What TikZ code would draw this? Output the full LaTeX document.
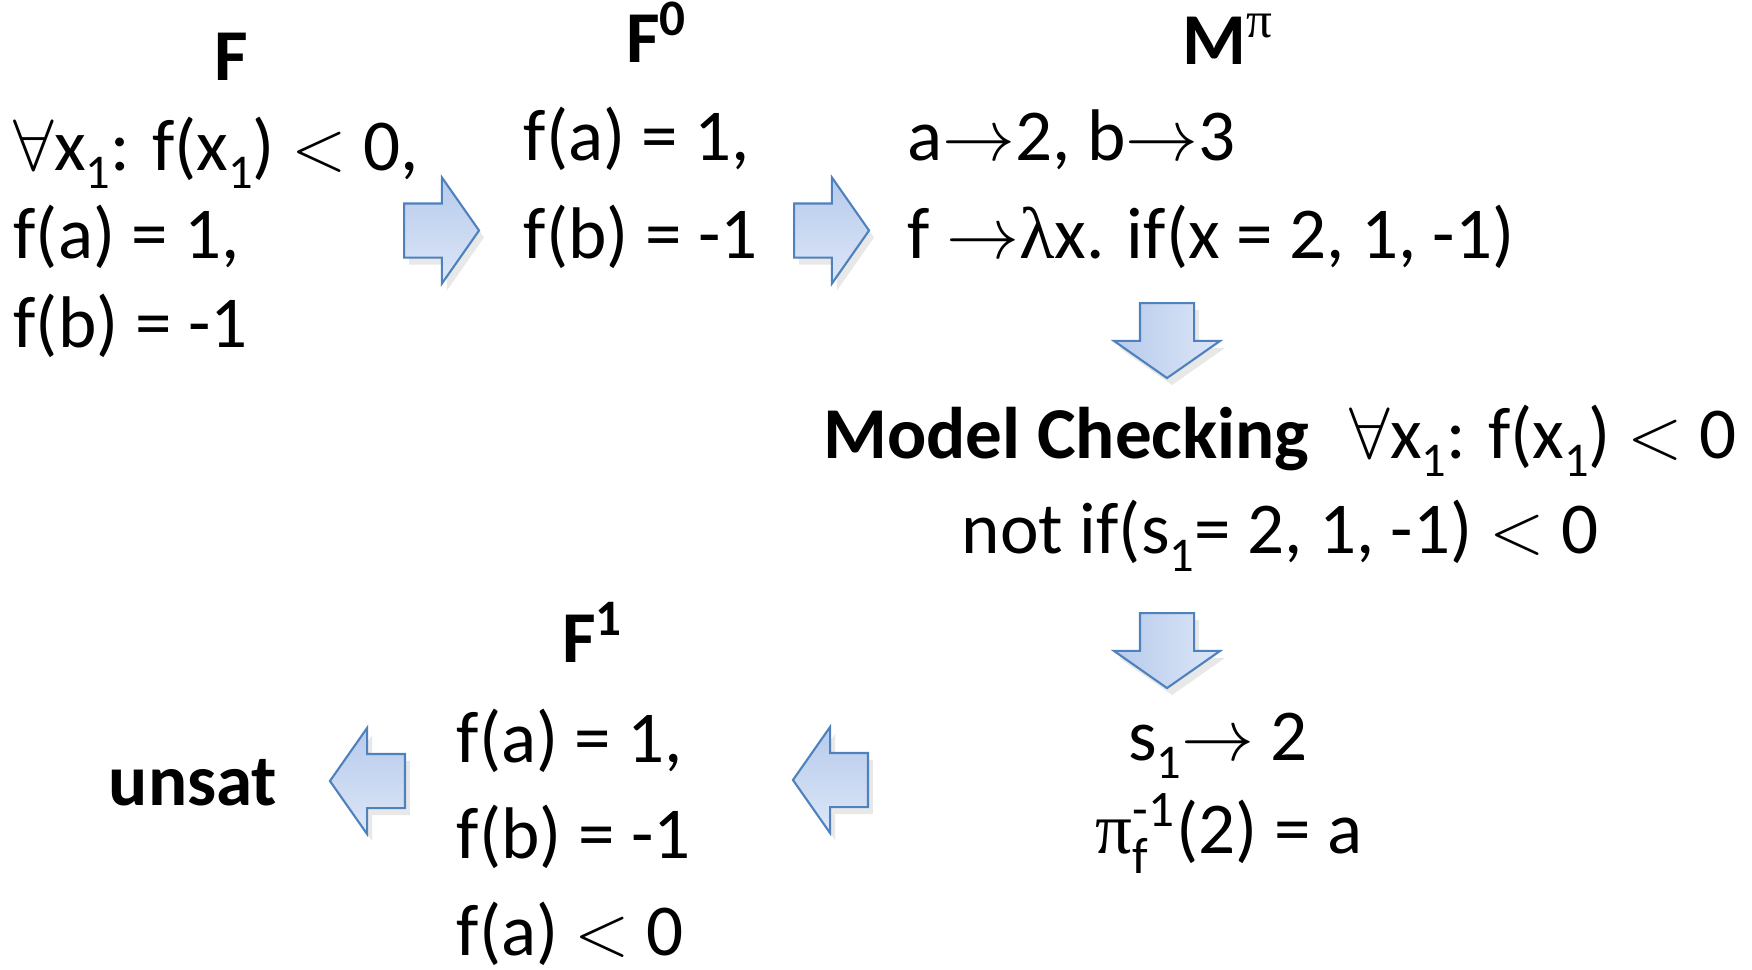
\documentclass[tikz,border=0pt]{standalone}
\usepackage{amsmath}
\usepackage{fontspec}
\setmainfont{Carlito}
\newfontfamily\greekfont{Liberation Serif}
\usetikzlibrary{shapes.arrows,positioning,shadows}
\definecolor{arrowline}{HTML}{4F81BD}
\definecolor{arrowdark}{HTML}{B7CBEC}
\definecolor{arrowlight}{HTML}{DCE6F7}
\newcommand{\lowidx}[1]{\raisebox{-0.25em}{\fontsize{13.8}{14}\selectfont #1}}
\newcommand{\highidx}[1]{\textsuperscript{#1}}
\newcommand{\lessthan}{${<}$}
\newcommand{\gpi}{{\greekfont π}}
\newcommand{\glambda}{{\greekfont λ}}
\tikzset{
	formula/.style={inner sep=0pt, anchor=base west, font=\fontsize{20.8}{24}\selectfont},
	midformula/.style={inner sep=0pt, anchor=base, font=\fontsize{20.8}{24}\selectfont},
	heading/.style={inner sep=0pt, anchor=base, font=\fontsize{20.8}{24}\selectfont\bfseries},
	blockarrow/.style={single arrow, draw=arrowline, line width=0.6pt,
		minimum height=7.5mm, minimum width=10.4mm, single arrow head extend=2.6mm,
		single arrow tip angle=110, anchor=tail,
		drop shadow={opacity=0.18, shadow xshift=0.5mm, shadow yshift=-0.7mm}},
	rightarrow/.style={blockarrow, inner xsep=0pt, inner ysep=2.6mm,
		top color=arrowdark, bottom color=arrowlight},
	downarrow/.style={blockarrow, inner xsep=2.6mm, inner ysep=0pt, shape border rotate=270,
		left color=arrowdark, right color=arrowlight},
	leftarrow/.style={blockarrow, inner xsep=0pt, inner ysep=2.6mm, shape border rotate=180,
		top color=arrowdark, bottom color=arrowlight}
}

\begin{document}
\begin{tikzpicture}
	\useasboundingbox (0,0) rectangle (17.52,-9.70);
	
	%% -- input formula F
	\node[heading] (f) at (2.31,-0.80) {F};
	\node[formula] (fq) at (0.13,-1.70) {$\forall$x\lowidx{1}: f(x\lowidx{1}) \lessthan{} 0,};
	\node[formula] (fa) at (0.13,-2.58) {f(a) = 1,};
	\node[formula] (fb) at (0.13,-3.47) {f(b) = -1};
	
	\node[rightarrow] (r1) at (4.03,-2.305) {};
	
	%% -- ground part F^0
	\node[heading] (f0) at (6.57,-0.62) {F\highidx{0}};
	\node[formula] (f0a) at (5.23,-1.60) {f(a) = 1,};
	\node[formula] (f0b) at (5.23,-2.58) {f(b) = -1};
	
	\node[rightarrow] (r2) at (7.93,-2.305) {};
	
	%% -- model M^pi
	\node[heading] (m) at (12.28,-0.64) {M\highidx{\mdseries\gpi}};
	\node[formula] (ma) at (9.07,-1.60) {a${\rightarrow}$2, b${\rightarrow}$3};
	\node[formula] (mf) at (9.07,-2.58) {f ${\rightarrow}$\glambda x. if(x = 2, 1, -1)};
	
	\node[downarrow] (d1) at (11.67,-3.02) {};
	
	%% -- model checking step
	\node[midformula] (mc) at (12.80,-4.58)
	{\textbf{Model Checking}\hspace{0.55em}$\forall$x\lowidx{1}: f(x\lowidx{1}) \lessthan{} 0};
	\node[midformula] (mcn) at (12.80,-5.53) {not if(s\lowidx{1}= 2, 1, -1) \lessthan{} 0};
	
	\node[downarrow] (d2) at (11.67,-6.12) {};
	
	%% -- counter model
	\node[midformula] (cs) at (12.18,-7.60) {s\lowidx{1}${\rightarrow}$ 2};
	\node[midformula] (cp) at (12.29,-8.53) {$\text{\gpi}_{\text{f}}^{\text{-1}}$(2) = a};
	
	\node[leftarrow] (l1) at (8.69,-7.80) {};
	
	%% -- refined formula F^1
	\node[heading] (f1) at (5.93,-6.62) {F\highidx{1}};
	\node[formula] (f1a) at (4.56,-7.62) {f(a) = 1,};
	\node[formula] (f1b) at (4.56,-8.58) {f(b) = -1};
	\node[formula] (f1c) at (4.56,-9.55) {f(a) \lessthan{} 0};
	
	\node[leftarrow] (l2) at (4.06,-7.81) {};
	
	\node[heading] (unsat) at (1.93,-8.05) {unsat};
	
\end{tikzpicture}
\end{document}
